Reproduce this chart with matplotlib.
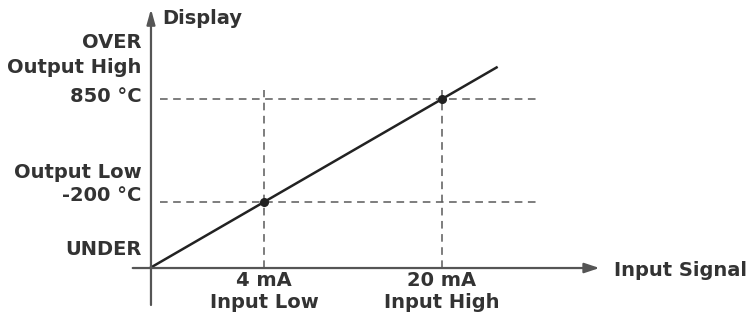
import matplotlib
matplotlib.use("Agg")
import matplotlib.pyplot as plt

# ---- data (schematic: input in mA, display in °C) ----
input_points = [4, 20]            # mA
output_points = [-200, 850]       # °C
line_x = [-6.25, 4, 20, 25]       # transfer line (starts at axis origin)
line_y = [-873, -200, 850, 1178]
input_labels = ["4 mA\nInput Low", "20 mA\nInput High"]
output_labels = ["-200 °C", "850 °C"]

TXT = "#333333"
AX = "#555555"
LN = "#222222"
FS = 14

fig = plt.figure(figsize=(7.51, 3.16), dpi=100)
ax = fig.add_axes([0, 0, 1, 1])
ax.set_xlim(-19.73, 47.77)
ax.set_ylim(-1362.1, 1859.2)
ax.axis("off")

x0, y0 = line_x[0], line_y[0]
lo, hi = output_points
# axes arrows
ax.annotate("", xy=(x0 + 40.4, y0), xytext=(x0 - 1.55, y0),
            arrowprops=dict(arrowstyle="-|>,head_length=0.9,head_width=0.3",
                            color=AX, lw=1.6, shrinkA=0, shrinkB=0))
ax.annotate("", xy=(x0 + 0.09, y0 + 2640), xytext=(x0 + 0.09, y0 - 377),
            arrowprops=dict(arrowstyle="-|>,head_length=0.9,head_width=0.25",
                            color=AX, lw=1.6, shrinkA=0, shrinkB=0))

# dashed guide lines
xg0 = x0 + 0.9
for yv in output_points:
    ax.plot([xg0, 28.8], [yv, yv], color="#5a5a5a", lw=1.1, dashes=(5, 3.6))
for xv in input_points:
    ax.plot([xv, xv], [y0, 942], color="#5a5a5a", lw=1.1, dashes=(5, 3.6))

# transfer line and points
ax.plot(line_x, line_y, color=LN, lw=1.8, solid_capstyle="butt")
ax.plot(input_points, output_points, "o", color=LN, ms=5.5)

# texts
fkw = dict(fontsize=FS, fontweight="bold", color=TXT, family="DejaVu Sans")
xl = x0 - 0.73
ax.text(x0 + 1.1, 1859.2 - 18 * 10.194, "Display", ha="left", va="center", **fkw)
ax.annotate("OVER", (xl, hi), xytext=(0, 41), textcoords="offset points",
            ha="right", va="center", **fkw)
ax.annotate("Output High", (xl, hi), xytext=(0, 23), textcoords="offset points",
            ha="right", va="center", **fkw)
ax.annotate(output_labels[1], (xl, hi), xytext=(0, 1.5), textcoords="offset points",
            ha="right", va="center", **fkw)
ax.annotate("Output Low", (xl, lo), xytext=(0, 21), textcoords="offset points",
            ha="right", va="center", **fkw)
ax.annotate(output_labels[0], (xl, lo), xytext=(0, 4.5), textcoords="offset points",
            ha="right", va="center", **fkw)
ax.annotate("UNDER", (xl, y0), xytext=(0, 13), textcoords="offset points",
            ha="right", va="center", **fkw)
for xv, lab in zip(input_points, input_labels):
    ax.annotate(lab, (xv, y0), xytext=(0, -2.5), textcoords="offset points",
                ha="center", va="top", linespacing=1.2, **fkw)
ax.annotate("Input Signal", (x0 + 41.7, y0), xytext=(0, -1.5), textcoords="offset points",
            ha="left", va="center", **fkw)

fig.savefig("out.png", dpi=100)
